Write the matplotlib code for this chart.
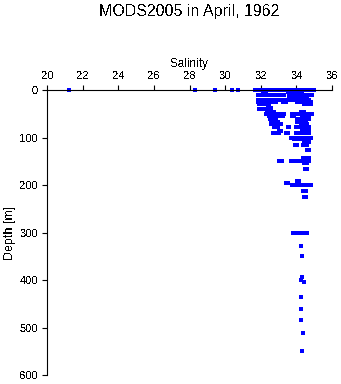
import matplotlib
matplotlib.use("Agg")
import matplotlib.pyplot as plt

plt.rcParams['font.family'] = ['Liberation Sans', 'DejaVu Sans']
plt.rcParams['text.antialiased'] = False

# Salinity observations grouped by observed depth (m)
sal_000 = [21.2, 28.3, 29.4, 30.4, 30.7,
           31.70, 31.82, 31.94, 32.06, 32.18, 32.30, 32.42, 32.54, 32.66, 32.78, 32.90, 33.02, 33.15,
           33.28, 33.42,
           33.52, 33.64, 33.76, 33.88, 34.00, 34.12, 34.24, 34.36, 34.48, 34.60, 34.72, 34.84, 34.97]
sal_005 = [32.10, 32.20, 32.30,
           33.50, 33.62, 33.74, 33.86, 33.98, 34.10, 34.22, 34.30]
sal_010 = [31.86, 31.98, 32.10, 32.22, 32.34, 32.46, 32.58, 32.70, 32.82, 32.94, 33.06,
           33.30,
           33.60, 33.72, 33.84, 33.96, 34.08, 34.20, 34.32, 34.44, 34.56, 34.68, 34.80, 34.90]
sal_015 = [33.60, 33.72, 33.84, 33.96, 34.08, 34.20, 34.32, 34.44, 34.58]
sal_020 = [31.86, 31.98, 32.10, 32.24,
           32.44, 32.56, 32.68, 32.80, 32.88,
           32.94, 33.06, 33.18, 33.30, 33.40,
           33.60, 33.72, 33.84, 33.96, 34.08, 34.20, 34.32, 34.44, 34.56, 34.70]
sal_025 = [31.86, 32.00,
           32.53, 32.65, 32.76, 32.85,
           33.22, 33.32, 33.40,
           34.06, 34.18, 34.30, 34.42, 34.54, 34.66, 34.80]
sal_030 = [31.90, 32.02, 32.10,
           32.30, 32.40, 32.47,
           34.43, 34.55, 34.67, 34.80]
sal_037 = [32.38, 32.48, 32.57]
sal_040 = [31.91, 32.03, 32.14, 32.20]
sal_047 = [32.34, 32.46, 32.58, 32.68, 32.75,
           34.25, 34.35, 34.43]
sal_050 = [32.29, 32.41, 32.53, 32.65, 32.77, 32.89, 33.01, 33.13, 33.23, 33.31,
           33.74, 33.86, 33.98, 34.10, 34.22, 34.34, 34.46, 34.58, 34.70, 34.80, 34.90]
sal_055 = [32.44, 32.56, 32.68, 32.80, 32.92, 33.04, 33.14, 33.22,
           33.78, 33.87,
           34.34, 34.46, 34.58, 34.71]
sal_062 = [32.51, 32.62, 32.74, 32.85,
           34.06, 34.16, 34.25,
           34.30, 34.42, 34.54, 34.64, 34.71]
sal_068 = [32.57, 32.69, 32.81, 32.94,
           34.06, 34.18, 34.30, 34.42, 34.53]
sal_072 = [32.57, 32.69, 32.81, 32.93, 33.05, 33.13,
           34.25, 34.37, 34.49, 34.62]
sal_077 = [32.75, 32.85, 32.94,
           33.50, 33.59,
           33.97, 34.09, 34.21, 34.34,
           34.53, 34.62, 34.71]
sal_086 = [33.03, 33.10, 33.16,
           34.34, 34.46, 34.58, 34.71]
sal_090 = [32.66, 32.78, 32.90, 33.03,
           33.40, 33.50,
           33.97, 34.07, 34.15,
           34.34, 34.46, 34.58, 34.71]
sal_100 = [33.69, 33.81, 33.93, 34.05, 34.17, 34.29, 34.41, 34.53, 34.65, 34.80]
sal_104 = [33.87, 33.99, 34.11, 34.23, 34.35, 34.47, 34.59, 34.71]
sal_109 = [34.43, 34.55, 34.66, 34.71]
sal_116 = [33.93, 34.06,
           34.38, 34.50, 34.62]
sal_126 = [34.62, 34.71]
sal_144 = [34.38, 34.50, 34.62, 34.71]
sal_150 = [33.03, 33.12, 33.18,
           33.69, 33.81, 33.93, 34.05, 34.17, 34.28, 34.34,
           34.43, 34.55, 34.66, 34.71]
sal_154 = [34.43, 34.53, 34.62]
sal_167 = [34.50, 34.62]
sal_191 = [34.06, 34.15]
sal_196 = [33.44, 33.55]
sal_200 = [33.78, 33.90, 34.02, 34.14, 34.25,
           34.38, 34.50, 34.62, 34.72, 34.80]
sal_213 = [34.38, 34.47, 34.53]
sal_226 = [34.43, 34.50, 34.56]
sal_302 = [33.82, 33.94, 34.06, 34.18, 34.30, 34.42, 34.54, 34.62]
sal_329 = [34.28]
sal_350 = [34.34]
sal_394 = [34.34]
sal_400 = [34.28]
sal_405 = [34.40]
sal_435 = [34.28]
sal_461 = [34.28]
sal_485 = [34.28]
sal_512 = [34.35]
sal_550 = [34.31]

levels = [
    (0, sal_000), (5, sal_005), (10, sal_010), (15, sal_015), (20, sal_020),
    (25, sal_025), (30, sal_030), (37, sal_037), (40, sal_040), (47, sal_047),
    (50, sal_050), (55, sal_055), (62, sal_062), (68, sal_068), (72, sal_072),
    (77, sal_077), (86, sal_086), (90, sal_090), (100, sal_100), (104, sal_104),
    (109, sal_109), (116, sal_116), (126, sal_126), (144, sal_144), (150, sal_150),
    (154, sal_154), (167, sal_167), (191, sal_191), (196, sal_196), (200, sal_200),
    (213, sal_213), (226, sal_226), (302, sal_302), (329, sal_329), (350, sal_350),
    (394, sal_394), (400, sal_400), (405, sal_405), (435, sal_435), (461, sal_461),
    (485, sal_485), (512, sal_512), (550, sal_550),
]

x_ticks = [20, 22, 24, 26, 28, 30, 32, 34, 36]
y_ticks = [0, 100, 200, 300, 400, 500, 600]

fig = plt.figure(figsize=(3.41, 3.84), dpi=100)
ax = fig.add_axes([0.1387, 0.0234, 0.8349, 0.7422])

sal_all, dep_all = [], []
for depth, sals in levels:
    sal_all.extend(sals)
    dep_all.extend([depth] * len(sals))
ax.plot(sal_all, dep_all, linestyle='none', marker='s', markersize=2.3,
        markeredgewidth=0, color='#0000ff', clip_on=False)

ax.set_xlim(20, 36)
ax.set_ylim(600, 0)
ax.xaxis.set_ticks_position('top')
ax.xaxis.set_label_position('top')
ax.set_xticks(x_ticks)
ax.set_yticks(y_ticks)
ax.tick_params(axis='x', direction='out', length=3.6, width=0.8, pad=3.0, labelsize=8)
ax.tick_params(axis='y', direction='out', length=3.4, width=0.8, pad=3.5, labelsize=8)
for side in ('bottom', 'right'):
    ax.spines[side].set_visible(False)
for side in ('top', 'left'):
    ax.spines[side].set_linewidth(0.8)

ax.set_xlabel('Salinity', fontsize=8.5, labelpad=2.5)
ax.set_ylabel('Depth [m]', fontsize=9, labelpad=2.5)

fig.text(0.556, 0.969, 'MODS2005 in April, 1962', ha='center', va='center', fontsize=11.5)

fig.savefig('out.png', dpi=100)
